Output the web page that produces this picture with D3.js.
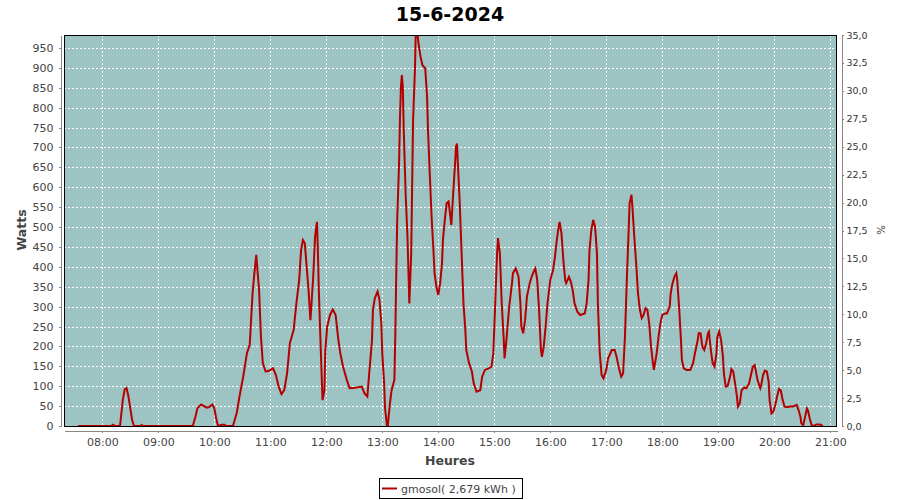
<!DOCTYPE html>
<html><head><meta charset="utf-8">
<script src="https://cdn.jsdelivr.net/npm/d3@7"></script>
<style>
body{margin:0;background:#fff}
svg{display:block}
text{font-family:"DejaVu Sans",sans-serif}
</style>
</head><body>
<svg id="chart" width="900" height="500"></svg>
<script>
// ---------- data ----------
const chartTitle = "15-6-2024";
const dayDate = "2024-06-15";
const xLabel = "Heures";
const yLabel = "Watts";
const y2Label = "%";
const legendLabel = "gmosol( 2,679 kWh )";
const hourTicks = ["08:00","09:00","10:00","11:00","12:00","13:00","14:00","15:00","16:00","17:00","18:00","19:00","20:00","21:00"];
const timeRange = ["07:19:00","21:07:12"];
const wattTicks = [0,50,100,150,200,250,300,350,400,450,500,550,600,650,700,750,800,850,900,950];
const wattMax = 982.5;
const pctTicks = [0,2.5,5,7.5,10,12.5,15,17.5,20,22.5,25,27.5,30,32.5,35];
const pctMax = 35;
const readings = [
["07:34",0],["08:10",0],["08:11",3],["08:14",0],["08:19",0],["08:22",65],["08:24",92],["08:26",95],["08:28",75],["08:30",45],["08:32",15],["08:34",0],["08:41",0],["08:42",3],["08:44",0],
["09:37",0],["09:40",25],["09:42",45],["09:46",54],["09:49",50],["09:52",46],["09:54",47],["09:58",54],["10:00",45],["10:02",20],["10:04",0],["10:08",3],["10:11",3],["10:13",0],
["10:20",0],["10:24",32],["10:27",74],["10:31",124],["10:35",183],["10:38",204],["10:41",333],["10:43",384],["10:45",430],["10:46",400],["10:48",342],["10:50",224],["10:52",158],["10:55",137],["10:58",138],
["11:03",145],["11:06",128],["11:09",99],["11:12",80],["11:15",90],["11:18",132],["11:21",208],["11:25",241],["11:28",308],["11:31",367],["11:33",442],["11:35",467],["11:37",459],["11:39",400],["11:41",342],["11:43",266],["11:44",300],["11:46",375],["11:48",476],["11:50",513],["11:51",442],["11:52",342],["11:54",199],["11:56",65],["11:58",90],["11:59",191],
["12:01",250],["12:04",279],["12:07",293],["12:10",279],["12:13",216],["12:15",183],["12:18",149],["12:22",116],["12:25",95],["12:31",96],["12:38",99],["12:41",82],["12:44",74],["12:46",132],["12:49",216],["12:50",292],["12:52",321],["12:55",338],["12:57",317],["12:59",258],
["13:00",183],["13:02",107],["13:03",44],["13:05",2],["13:06",2],["13:08",53],["13:10",90],["13:13",116],["13:14",233],["13:15",384],["13:16",518],["13:18",660],["13:19",777],["13:20",853],["13:21",882],["13:22",853],["13:23",744],["13:25",585],["13:27",476],["13:28",392],["13:29",308],["13:31",434],["13:32",602],["13:33",769],["13:35",895],["13:36",1000],["13:37",1000],["13:39",958],["13:41",928],["13:43",907],["13:46",899],["13:48",828],["13:49",744],["13:51",627],["13:53",518],["13:55",434],["13:56",384],["13:58",350],
["14:00",329],["14:02",359],["14:04",409],["14:05",467],["14:07",518],["14:09",560],["14:11",564],["14:13",526],["14:14",505],["14:16",585],["14:18",660],["14:19",702],["14:20",710],["14:21",660],["14:23",560],["14:25",434],["14:27",308],["14:29",241],["14:30",191],["14:33",158],["14:36",137],["14:38",107],["14:41",86],["14:45",90],["14:47",124],["14:50",141],["14:54",145],["14:57",149],["14:59",183],
["15:01",308],["15:03",434],["15:04",472],["15:06",434],["15:08",308],["15:10",224],["15:11",170],["15:13",216],["15:16",300],["15:19",359],["15:20",384],["15:23",396],["15:26",375],["15:28",308],["15:29",250],["15:31",233],["15:33",266],["15:35",325],["15:38",359],["15:40",375],["15:43",392],["15:44",396],["15:46",367],["15:48",292],["15:50",191],["15:51",174],["15:53",199],["15:55",250],["15:57",308],
["16:00",367],["16:03",392],["16:05",425],["16:07",467],["16:09",501],["16:10",513],["16:12",484],["16:14",417],["16:16",367],["16:17",359],["16:20",375],["16:22",363],["16:24",342],["16:26",308],["16:29",287],["16:32",279],["16:37",283],["16:39",308],["16:41",367],["16:42",442],["16:44",493],["16:46",518],["16:48",501],["16:50",434],["16:51",308],["16:53",183],["16:55",128],["16:57",120],
["17:00",141],["17:02",170],["17:06",191],["17:09",191],["17:11",174],["17:14",141],["17:16",124],["17:18",132],["17:20",224],["17:22",367],["17:24",493],["17:25",560],["17:27",581],["17:28",551],["17:30",476],["17:32",409],["17:34",333],["17:36",292],["17:38",271],["17:40",279],["17:42",296],["17:44",292],["17:46",258],["17:48",199],["17:50",158],["17:51",141],["17:54",183],["17:56",224],["17:58",258],
["18:00",279],["18:03",283],["18:05",283],["18:08",300],["18:09",333],["18:11",359],["18:13",375],["18:15",384],["18:16",367],["18:18",300],["18:20",216],["18:21",166],["18:23",145],["18:26",141],["18:30",141],["18:33",158],["18:35",183],["18:38",216],["18:39",233],["18:41",233],["18:43",199],["18:45",191],["18:47",208],["18:49",233],["18:50",237],["18:52",191],["18:54",158],["18:56",149],["18:58",183],["18:59",224],
["19:01",237],["19:03",216],["19:05",174],["19:06",132],["19:08",99],["19:10",100],["19:13",128],["19:14",143],["19:16",137],["19:18",107],["19:20",74],["19:21",49],["19:23",57],["19:25",90],["19:28",97],["19:30",95],["19:33",107],["19:35",128],["19:37",149],["19:39",153],["19:40",141],["19:42",116],["19:45",95],["19:46",103],["19:48",128],["19:50",139],["19:52",137],["19:54",111],["19:55",65],["19:57",32],["19:59",36],
["20:01",53],["20:03",74],["20:05",93],["20:07",89],["20:09",65],["20:11",49],["20:13",47],["20:17",49],["20:20",49],["20:24",53],["20:26",40],["20:28",23],["20:29",7],["20:31",2],["20:33",23],["20:35",44],["20:36",40],["20:38",19],["20:40",2],["20:42",0],["20:45",4],["20:49",4],["20:52",0]
];

// ---------- chart ----------
const parse = d3.timeParse("%Y-%m-%d %H:%M:%S");
const T = s => parse(dayDate + " " + (s.length === 5 ? s + ":00" : s));

const L = 64, R = 837, TOP = 35, BOT = 426;
const svg = d3.select("#chart");

const x = d3.scaleTime().domain(timeRange.map(T)).range([L, R]);
const y = d3.scaleLinear().domain([0, wattMax]).range([BOT, TOP]);
const y2 = d3.scaleLinear().domain([0, pctMax]).range([BOT, TOP]);

// title
svg.append("text").attr("x", 450).attr("y", 21).attr("text-anchor", "middle")
  .style("font-size", "19px").style("font-weight", "bold").attr("fill", "#000").text(chartTitle);

// plot background
svg.append("rect").attr("x", L).attr("y", TOP).attr("width", R - L).attr("height", BOT - TOP).attr("fill", "#9dc3c3");

// gridlines
const grid = svg.append("g").attr("shape-rendering", "crispEdges");
grid.selectAll("line.h").data(wattTicks.filter(d => d > 0)).join("line")
  .attr("x1", L).attr("x2", R).attr("y1", d => Math.round(y(d)) + 0.5).attr("y2", d => Math.round(y(d)) + 0.5)
  .attr("stroke", "#fff").attr("stroke-dasharray", "2,2");
grid.selectAll("line.v").data(hourTicks.map(T)).join("line")
  .attr("y1", TOP).attr("y2", BOT).attr("x1", d => Math.round(x(d)) + 0.5).attr("x2", d => Math.round(x(d)) + 0.5)
  .attr("stroke", "#fff").attr("stroke-dasharray", "2,2");

// line
svg.append("clipPath").attr("id", "clip").append("rect").attr("x", L).attr("y", TOP).attr("width", R - L).attr("height", BOT - TOP);
const line = d3.line().x(d => x(T(d[0]))).y(d => y(d[1]));
svg.append("path").datum(readings).attr("clip-path", "url(#clip)")
  .attr("d", line).attr("fill", "none").attr("stroke", "#b40000").attr("stroke-width", 2).attr("stroke-linejoin", "miter");

// plot border
svg.append("rect").attr("x", L + 0.5).attr("y", TOP + 0.5).attr("width", R - L - 1).attr("height", BOT - TOP)
  .attr("fill", "none").attr("stroke", "#000").attr("shape-rendering", "crispEdges");

function styleAxis(g, size) {
  g.attr("shape-rendering", "crispEdges");
  g.select(".domain").attr("stroke", "#888");
  g.selectAll(".tick line").attr("stroke", "#888");
  g.selectAll(".tick text").attr("fill", "#444").style("font-size", size).style("font-family", "'DejaVu Sans',sans-serif");
}

// left axis
const gl = svg.append("g").attr("transform", "translate(60.5,0)")
  .call(d3.axisLeft(y).tickValues(wattTicks).tickSize(2).tickSizeOuter(0).tickPadding(5).tickFormat(d3.format("d")));
styleAxis(gl, "11px");

// right axis
const fmtPct = v => d3.format(".1f")(v).replace(".", ",");
const gr = svg.append("g").attr("transform", "translate(841.5,0)")
  .call(d3.axisRight(y2).tickValues(pctTicks).tickSize(2).tickSizeOuter(0).tickPadding(3).tickFormat(fmtPct));
styleAxis(gr, "9.5px");
gr.selectAll(".tick text").attr("fill", "#333");

// bottom axis
const gb = svg.append("g").attr("transform", "translate(0,430.5)")
  .call(d3.axisBottom(x).tickValues(hourTicks.map(T)).tickSize(2).tickSizeOuter(0).tickPadding(6).tickFormat(d3.timeFormat("%H:%M")));
styleAxis(gb, "11px");

// axis titles
svg.append("text").attr("transform", "translate(26,230) rotate(-90)").attr("text-anchor", "middle")
  .style("font-size", "12.5px").style("font-weight", "bold").attr("fill", "#444").text(yLabel);
svg.append("text").attr("x", 450).attr("y", 465).attr("text-anchor", "middle")
  .style("font-size", "12.5px").style("font-weight", "bold").attr("fill", "#444").text(xLabel);
svg.append("text").attr("transform", "translate(877,230) rotate(90)").attr("text-anchor", "middle")
  .style("font-size", "10px").attr("fill", "#333").text(y2Label);

// legend
const lg = svg.append("g");
lg.append("rect").attr("x", 379.5).attr("y", 478.5).attr("width", 143).attr("height", 20)
  .attr("fill", "#fff").attr("stroke", "#000").attr("shape-rendering", "crispEdges");
lg.append("line").attr("x1", 382).attr("x2", 397).attr("y1", 488.5).attr("y2", 488.5)
  .attr("stroke", "#b40000").attr("stroke-width", 2);
lg.append("text").attr("x", 401).attr("y", 492.5).style("font-size", "11px").attr("fill", "#444").text(legendLabel);
</script>
</body></html>
